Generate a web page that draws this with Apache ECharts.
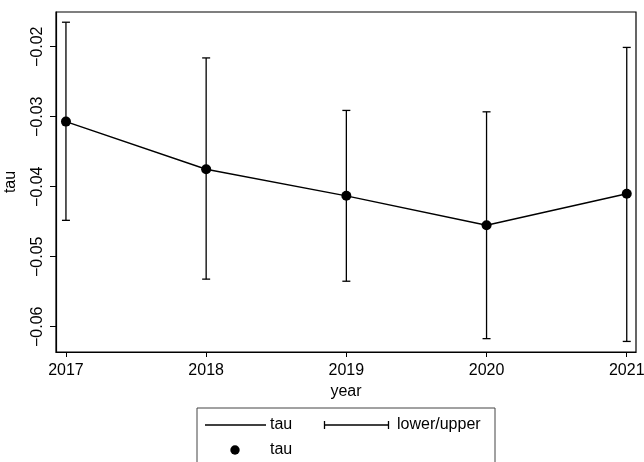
<!DOCTYPE html>
<html>
<head>
<meta charset="utf-8">
<script src="https://cdn.jsdelivr.net/npm/echarts@6/dist/echarts.min.js"></script>
<style>
  html, body { margin: 0; padding: 0; background: #fff; }
  #chart { width: 644px; height: 462px; }
</style>
</head>
<body>
<div id="chart"></div>
<script>
// Yearly estimates of tau with lower/upper confidence bounds
const years = [2017, 2018, 2019, 2020, 2021];
const tau = [-0.0307, -0.0375, -0.0413, -0.0455, -0.0410];
const lower = [-0.0448, -0.0532, -0.0535, -0.0617, -0.0621];
const upper = [-0.0165, -0.0216, -0.0291, -0.0293, -0.0201];
const yTicks = [-0.06, -0.05, -0.04, -0.03, -0.02];

const FONT = 'Liberation Sans, Arial, sans-serif';

const chart = echarts.init(document.getElementById('chart'), null, { renderer: 'canvas' });

const fmtTick = v => (v < 0 ? '\u2212' : '') + Math.abs(v).toFixed(2);

chart.setOption({
  animation: false,
  backgroundColor: '#fff',
  grid: {
    left: 56, top: 12, right: 8, bottom: 110,
    outerBoundsMode: 'none', containLabel: false,
    show: true, borderColor: '#000', borderWidth: 1.2, backgroundColor: '#fff'
  },
  xAxis: {
    type: 'value',
    min: 2016.929, max: 2021.066,
    name: 'year', nameLocation: 'middle', nameGap: 31,
    nameTextStyle: { fontFamily: FONT, fontSize: 16, color: '#000' },
    axisLine: { show: true, lineStyle: { color: '#000', width: 1.2 } },
    axisTick: { show: true, length: 5, customValues: years, lineStyle: { color: '#000', width: 1 } },
    axisLabel: {
      customValues: years, margin: 11, fontFamily: FONT, fontSize: 16, color: '#000',
      hideOverlap: false, formatter: v => String(Math.round(v))
    },
    splitLine: { show: false }
  },
  yAxis: {
    type: 'value',
    min: -0.06361, max: -0.01504,
    name: 'tau', nameLocation: 'middle', nameGap: 37, nameRotate: 90,
    nameTextStyle: { fontFamily: FONT, fontSize: 16, color: '#000' },
    axisLine: { show: true, lineStyle: { color: '#000', width: 1.2 } },
    axisTick: { show: true, length: 6, customValues: yTicks, lineStyle: { color: '#000', width: 1 } },
    axisLabel: {
      customValues: yTicks, rotate: 90, margin: 10, fontFamily: FONT, fontSize: 16, color: '#000',
      formatter: fmtTick
    },
    splitLine: { show: false }
  },
  series: [
    {
      // confidence interval whiskers
      type: 'custom',
      name: 'lower/upper',
      data: years.map((y, i) => [y, lower[i], upper[i]]),
      renderItem: (params, api) => {
        const lo = api.coord([api.value(0), api.value(1)]);
        const hi = api.coord([api.value(0), api.value(2)]);
        const cap = 4;
        const style = { stroke: '#000', lineWidth: 1.3, fill: null };
        return {
          type: 'group',
          children: [
            { type: 'line', shape: { x1: lo[0], y1: lo[1], x2: hi[0], y2: hi[1] }, style },
            { type: 'line', shape: { x1: lo[0] - cap, y1: lo[1], x2: lo[0] + cap, y2: lo[1] }, style },
            { type: 'line', shape: { x1: hi[0] - cap, y1: hi[1], x2: hi[0] + cap, y2: hi[1] }, style }
          ]
        };
      },
      z: 2
    },
    {
      type: 'line',
      name: 'tau',
      data: years.map((y, i) => [y, tau[i]]),
      symbol: 'circle',
      symbolSize: 10,
      showSymbol: true,
      itemStyle: { color: '#000' },
      lineStyle: { color: '#000', width: 1.4 },
      z: 3
    }
  ],
  graphic: [
    {
      type: 'rect',
      shape: { x: 197, y: 408, width: 298, height: 70 },
      style: { fill: '#fff', stroke: '#444', lineWidth: 1 }
    },
    { type: 'line', shape: { x1: 205, y1: 425, x2: 266, y2: 425 }, style: { stroke: '#000', lineWidth: 1.3 } },
    { type: 'text', x: 270, y: 425, style: { text: 'tau', font: '16px ' + FONT, fill: '#000', verticalAlign: 'middle' } },
    { type: 'line', shape: { x1: 324, y1: 425, x2: 389, y2: 425 }, style: { stroke: '#000', lineWidth: 1.3 } },
    { type: 'line', shape: { x1: 324.5, y1: 421, x2: 324.5, y2: 429 }, style: { stroke: '#000', lineWidth: 1.3 } },
    { type: 'line', shape: { x1: 388.5, y1: 421, x2: 388.5, y2: 429 }, style: { stroke: '#000', lineWidth: 1.3 } },
    { type: 'text', x: 397, y: 425, style: { text: 'lower/upper', font: '16px ' + FONT, fill: '#000', verticalAlign: 'middle' } },
    { type: 'circle', shape: { cx: 235, cy: 450, r: 4.7 }, style: { fill: '#000' } },
    { type: 'text', x: 270, y: 450, style: { text: 'tau', font: '16px ' + FONT, fill: '#000', verticalAlign: 'middle' } }
  ]
});
</script>
</body>
</html>
